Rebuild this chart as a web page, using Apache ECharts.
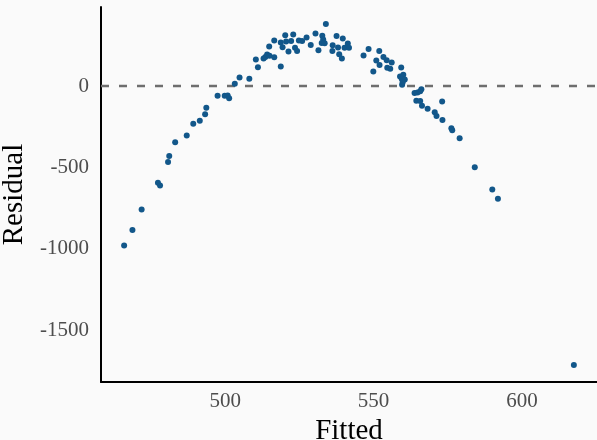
<!DOCTYPE html>
<html>
<head>
<meta charset="utf-8">
<script src="https://cdn.jsdelivr.net/npm/echarts@6/dist/echarts.min.js"></script>
<style>
  html, body { margin: 0; padding: 0; background: #fafafa; }
  #chart { width: 597px; height: 440px; }
</style>
</head>
<body>
<div id="chart"></div>
<script>
// fitted values vs residuals
var fitted = [
    465.9, 468.7, 471.8, 477.3, 478.0, 480.7, 481.1, 483.1, 487.0, 489.2,
    491.4, 493.2, 493.6, 497.4, 499.8, 500.8, 501.3, 503.2, 504.8, 508.1,
    511.0, 510.3, 512.9, 513.5, 514.1, 514.9, 516.5, 518.7, 514.8, 516.5,
    518.7, 519.3, 520.2, 520.5, 521.3, 522.2, 522.9, 523.5, 524.2, 524.8,
    525.9, 527.4, 528.8, 530.4, 531.4, 532.7, 533.0, 532.5, 533.5, 533.9,
    536.2, 536.1, 537.5, 538.0, 538.4, 539.3, 539.6, 540.2, 541.3, 541.7,
    546.6, 548.3, 549.9, 550.9, 551.9, 552.0, 553.3, 554.4, 554.6, 555.6,
    556.1, 559.3, 558.9, 560.0, 559.5, 560.5, 559.6, 559.8, 563.8, 564.8,
    565.7, 566.1, 564.4, 565.7, 566.3, 568.2, 570.6, 571.2, 573.1, 573.2,
    576.2, 576.5, 579.0, 584.1, 590.0, 591.9, 617.5
];
var residual = [
    -980, -884, -758, -594, -611, -467, -429, -345, -304, -231,
    -213, -173, -133, -59, -59, -57, -75, 14, 53, 45,
    116, 164, 170, 179, 194, 186, 178, 121, 243, 280,
    268, 239, 312, 274, 213, 277, 317, 235, 216, 280,
    277, 298, 253, 323, 220, 310, 286, 265, 263, 382,
    251, 216, 308, 237, 196, 170, 292, 235, 261, 235,
    188, 228, 90, 157, 216, 130, 179, 159, 112, 106,
    145, 115, 59, 69, 43, 41, 8, 23, -43, -39,
    -31, -20, -90, -92, -121, -139, -161, -184, -94, -208,
    -259, -271, -320, -498, -635, -692, -1713
];
var xTicks = [500, 550, 600];
var yTicks = [-1500, -1000, -500, 0];

var points = [];
for (var i = 0; i < fitted.length; i++) {
    points.push([fitted[i], residual[i]]);
}

var chart = echarts.init(document.getElementById('chart'));
chart.setOption({
    backgroundColor: '#fafafa',
    animation: false,
    textStyle: { fontFamily: 'Liberation Serif' },
    grid: { left: 101, right: 0, top: 7, bottom: 58, outerBoundsMode: 'none' },
    xAxis: {
        type: 'value',
        min: 458.1,
        max: 625.3,
        name: 'Fitted',
        nameLocation: 'middle',
        nameGap: 31,
        nameTextStyle: { fontSize: 29, color: '#000', fontFamily: 'Liberation Serif' },
        axisLine: { onZero: false, lineStyle: { color: '#000', width: 2 } },
        axisTick: { show: false },
        splitLine: { show: false },
        axisLabel: {
            customValues: xTicks,
            formatter: function (v) { return String(v); },
            color: '#4d4d4d',
            fontSize: 21,
            margin: 9,
            fontFamily: 'Liberation Serif'
        }
    },
    yAxis: {
        type: 'value',
        min: -1818,
        max: 486,
        name: 'Residual',
        nameLocation: 'middle',
        nameGap: 69,
        nameTextStyle: { fontSize: 29, color: '#000', fontFamily: 'Liberation Serif' },
        axisLine: { show: true, onZero: false, lineStyle: { color: '#000', width: 2 } },
        axisTick: { show: false },
        splitLine: { show: false },
        axisLabel: {
            customValues: yTicks,
            formatter: function (v) { return String(v); },
            color: '#4d4d4d',
            fontSize: 21,
            margin: 12,
            fontFamily: 'Liberation Serif'
        }
    },
    series: [{
        type: 'scatter',
        data: points,
        symbolSize: 6,
        z: 3,
        itemStyle: { color: '#12578a', opacity: 1 },
        markLine: {
            silent: true,
            symbol: 'none',
            z: 1,
            label: { show: false },
            emphasis: { disabled: true },
            lineStyle: { type: [8, 10], color: '#6e6e6e', width: 2.4, opacity: 1 },
            data: [{ yAxis: 0 }]
        }
    }]
});
</script>
</body>
</html>
